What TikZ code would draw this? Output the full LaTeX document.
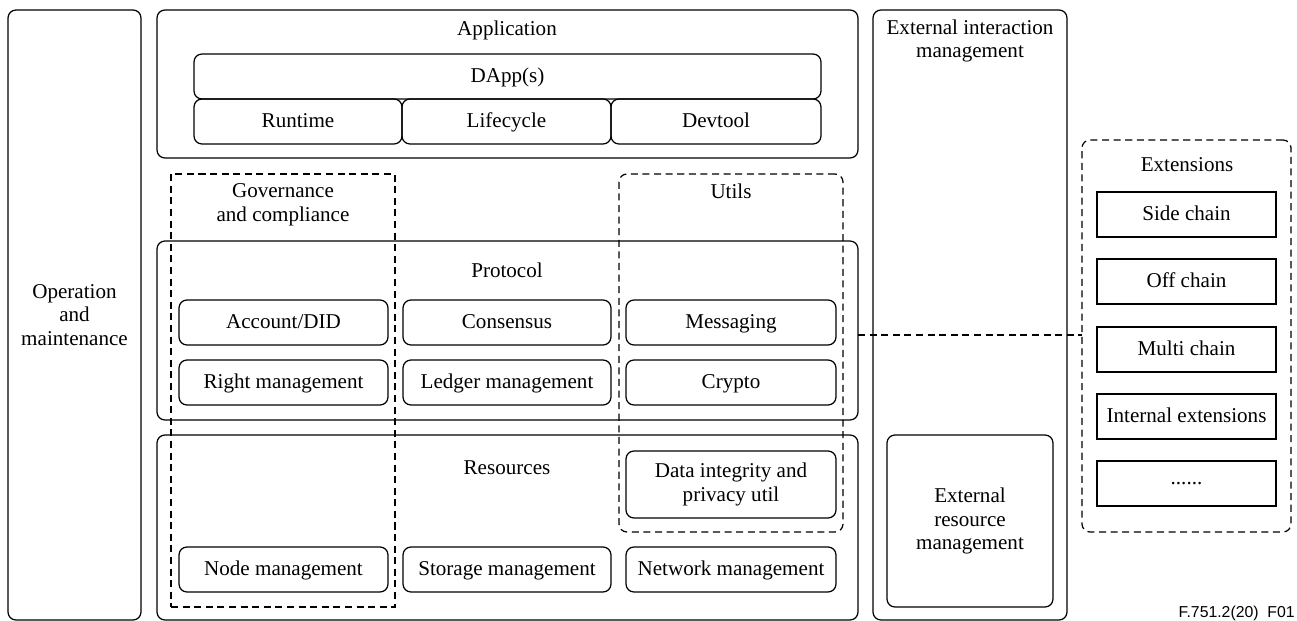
\documentclass[tikz,border=0pt]{standalone}
\usepackage{fontspec}
\setmainfont{Liberation Serif}
\newfontfamily\footfont{Liberation Sans}
% #1 style, #2 name, #3 x1, #4 y1, #5 x2, #6 y2, #7 text  (coordinates in px of the reference)
\newcommand{\mybox}[7][]{%
  \pgfmathsetmacro\mybw{(#5-#3)*0.02}%
  \pgfmathsetmacro\mybh{(#6-#4)*0.02}%
  \node[#1, minimum width=\mybw cm, minimum height=\mybh cm] (#2) at ({(#3+#5)/2},{(#4+#6)/2}) {#7};}
\begin{document}
\begin{tikzpicture}[x=0.02cm,y=-0.02cm,
  every node/.style={font=\fontsize{12}{13.5}\selectfont, align=center},
  base/.style={draw, line width=0.7pt, inner sep=0pt, outer sep=0pt},
  rbox/.style={base, rounded corners=0.16cm},
  sbox/.style={base},
  one/.style={text height=0.66em, text depth=0pt},
  dbox/.style={base, dash pattern=on 4pt off 2.6pt},
  drbox/.style={dbox, rounded corners=0.16cm},
  title/.style={inner sep=0pt},
  dline/.style={line width=0.7pt, dash pattern=on 4pt off 2.6pt}]
\useasboundingbox (0,0) rectangle (1297,621);
% left column
\mybox[rbox]{om}{8}{10}{141}{620}{Operation\\and\\maintenance}
% application
\mybox[rbox]{app}{157}{10}{858}{158}{}
\node[title,one] (apptitle) at (507,30) {Application};
\mybox[rbox,one]{dapp}{194}{54}{821}{99}{DApp(s)}
\mybox[rbox,one]{runtime}{194}{99}{402}{144}{Runtime}
\mybox[rbox,one]{lifecycle}{402}{99}{611}{144}{Lifecycle}
\mybox[rbox,one]{devtool}{611}{99}{821}{144}{Devtool}
% protocol
\mybox[rbox]{protocol}{157}{241}{858}{420}{}
\node[title,one] (prottitle) at (507,272) {Protocol};
\mybox[rbox,one]{account}{179}{300}{388}{345}{Account/DID}
\mybox[rbox,one]{right}{179}{360}{388}{405}{Right management}
\mybox[rbox,one]{consensus}{403}{300}{611}{345}{Consensus}
\mybox[rbox,one]{ledger}{403}{360}{611}{405}{Ledger management}
\mybox[rbox,one]{messaging}{626}{300}{836}{345}{Messaging}
\mybox[rbox,one]{crypto}{626}{360}{836}{405}{Crypto}
% resources
\mybox[rbox]{resources}{157}{435}{858}{620}{}
\node[title,one] (restitle) at (507,469) {Resources};
\mybox[rbox]{dataint}{626}{451}{836}{518}{Data integrity and\\privacy util}
\mybox[rbox,one]{nodem}{179}{547}{388}{592}{Node management}
\mybox[rbox,one]{storage}{403}{547}{611}{592}{Storage management}
\mybox[rbox,one]{network}{626}{547}{836}{592}{Network management}
% dashed groups
\mybox[dbox]{gov}{171}{174}{395}{607}{}
\node[title] (govtitle) at (283,205) {Governance\\and compliance};
\mybox[drbox]{utils}{619}{174}{843}{532}{}
\node[title,one] (utilstitle) at (731,193) {Utils};
% external
\mybox[rbox]{extint}{873}{10}{1067}{620}{}
\node[title] (extinttitle) at (970,41) {External interaction\\management};
\mybox[rbox]{extres}{887}{435}{1053}{607}{External\\resource\\management}
% extensions
\mybox[drbox]{ext}{1082}{140}{1291}{532}{}
\node[title,one] (exttitle) at (1187,166) {Extensions};
\mybox[sbox,one]{side}{1097}{192}{1276}{237}{Side chain}
\mybox[sbox,one]{off}{1097}{259}{1276}{304}{Off chain}
\mybox[sbox,one]{multi}{1097}{327}{1276}{372}{Multi chain}
\mybox[sbox,one]{internal}{1097}{394}{1276}{439}{Internal extensions}
\mybox[sbox]{more}{1097}{461}{1276}{506}{......}
% connector
\draw[dline] (protocol.east |- 0,335) -- (ext.west |- 0,335);
% figure id
\node[anchor=east, inner sep=0pt, font=\footfont\fontsize{9}{10}\selectfont] (figid) at (1295,613) {F.751.2(20)\ \ F01};
\end{tikzpicture}
\end{document}
